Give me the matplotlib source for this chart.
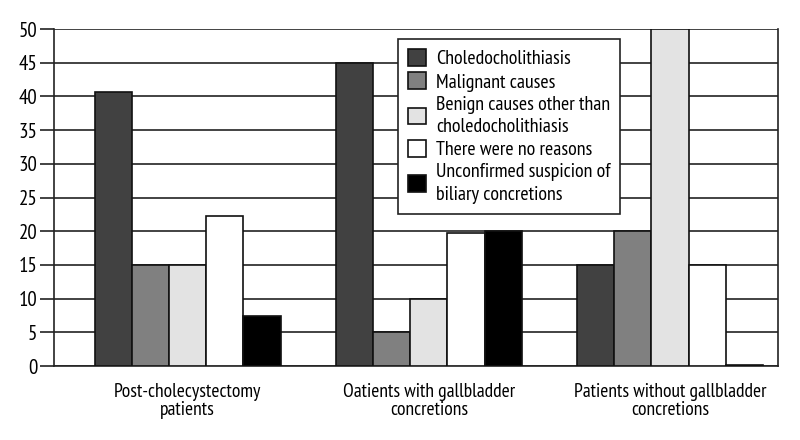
import numpy as np
import matplotlib.pyplot as plt

plt.rcParams['font.family'] = ['PT Sans Narrow', 'DejaVu Sans']

categories = ['Post-cholecystectomy\npatients',
              'Oatients with gallbladder\nconcretions',
              'Patients without gallbladder\nconcretions']
series = ['Choledocholithiasis', 'Malignant causes',
          'Benign causes other than\ncholedocholithiasis',
          'There were no reasons',
          'Unconfirmed suspicion of\nbiliary concretions']
values = [
    [40.7, 45, 15],     # choledocholithiasis
    [15, 5, 20],        # malignant
    [15, 10, 50],       # benign other
    [22.2, 19.8, 15],   # no reasons
    [7.4, 20, 0.2],     # unconfirmed suspicion
]
colors = ['#414141', '#808080', '#e3e3e3', '#ffffff', '#000000']

fig = plt.figure(figsize=(8, 4.4), dpi=100)
ax = fig.add_axes([0.0675, 0.168, 0.905, 0.766])

x = np.arange(len(categories))
w = 0.154
for i in range(len(series)):
    ax.bar(x + (i - 2) * w, values[i], w, color=colors[i], edgecolor='#111111',
           linewidth=1.2, label=series[i], zorder=3)

ax.set_ylim(0, 50)
ax.set_xlim(-0.555, 2.448)
ax.set_yticks(range(0, 51, 5))
ax.yaxis.grid(True, color='#222222', linewidth=1.2, zorder=0)
ax.set_axisbelow(True)
ax.set_xticks(x)
ax.set_xticklabels(categories, fontsize=14, linespacing=1.05)
ax.tick_params(axis='x', length=0, pad=12)
ax.tick_params(axis='y', length=10, width=1.2, color='#222222', labelsize=15, pad=2)
for s in ['left', 'bottom', 'right']:
    ax.spines[s].set_linewidth(1.2)
    ax.spines[s].set_color('#222222')
ax.spines['top'].set_visible(False)

leg = ax.legend(loc='upper left', bbox_to_anchor=(0.475, 0.970), fontsize=14.4,
                frameon=True, fancybox=False, edgecolor='#222222', framealpha=1,
                handlelength=0.9, handleheight=0.9, handletextpad=0.5,
                labelspacing=0.2, borderpad=0.5, borderaxespad=0)
for t in leg.get_texts():
    t.set_linespacing(1.32)
leg.get_frame().set_linewidth(1.2)

fig.savefig('out.png', dpi=100)
